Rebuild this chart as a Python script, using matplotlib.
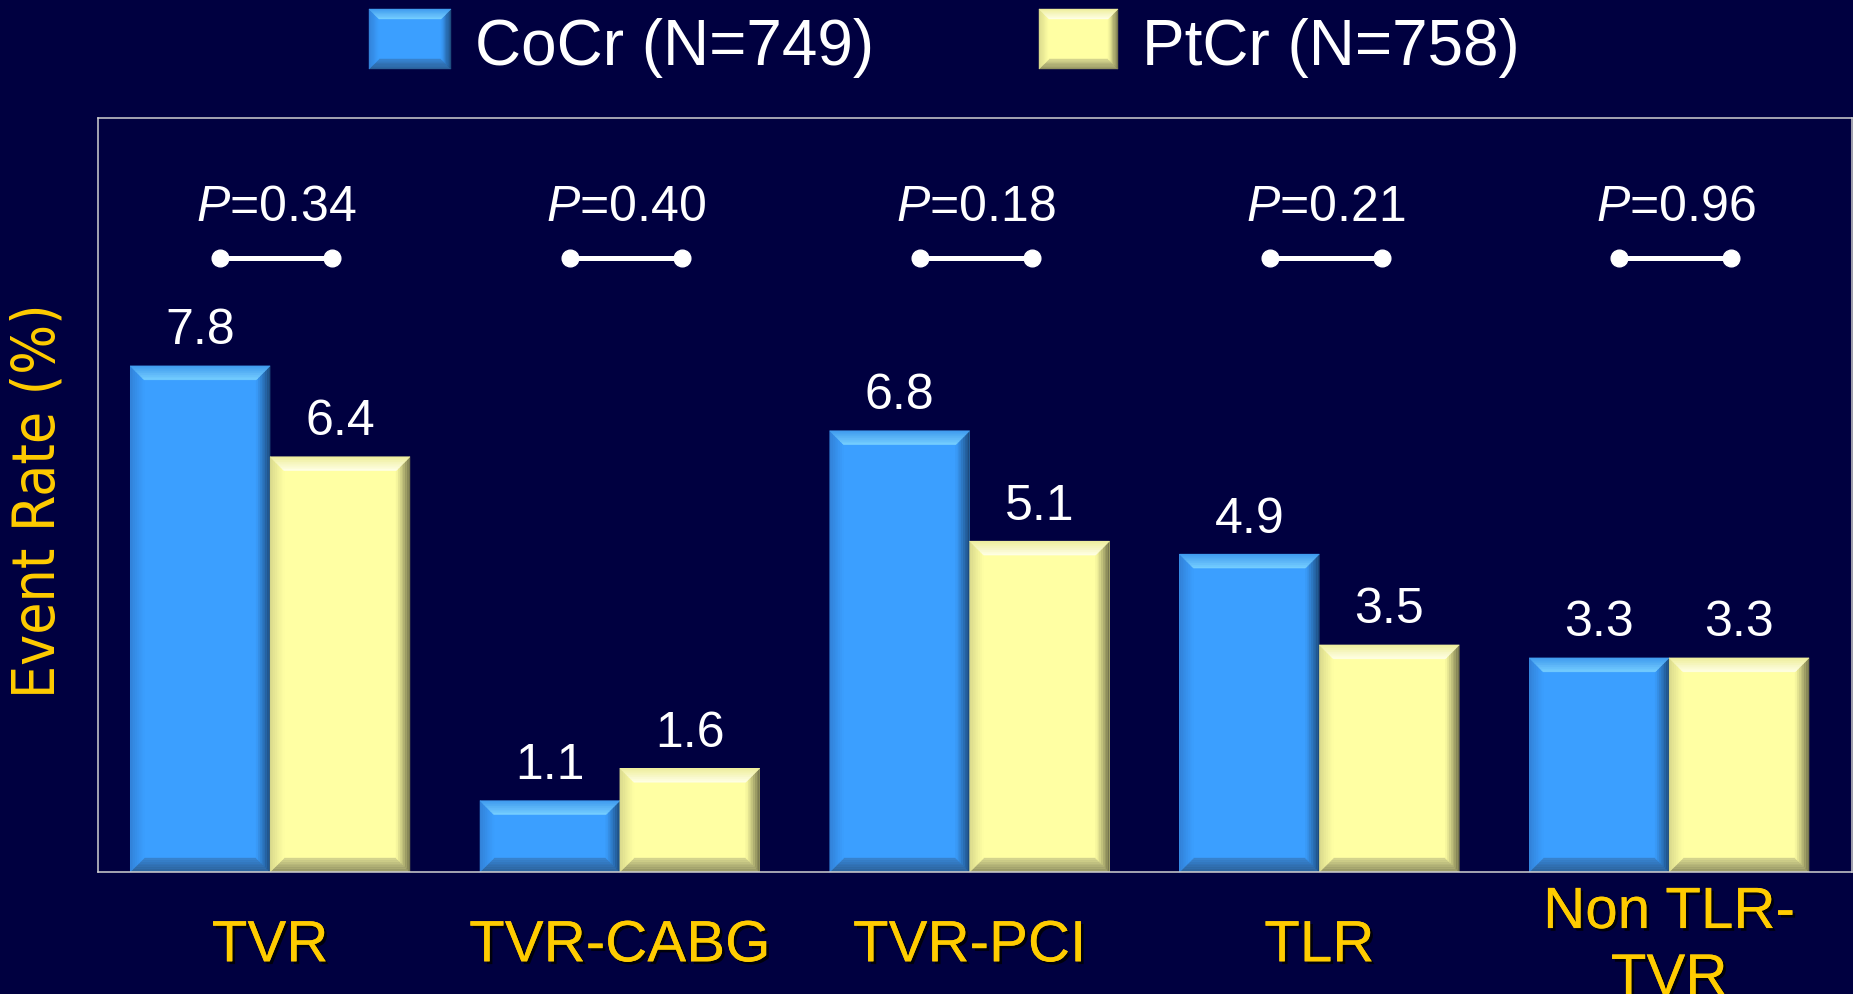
import matplotlib.pyplot as plt
import matplotlib.patheffects as pe
import matplotlib.transforms as mtransforms
from matplotlib.colors import to_rgb
from matplotlib.patches import Polygon, Rectangle
import numpy as np

# Event rates (%) per endpoint
categories = ['TVR', 'TVR-CABG', 'TVR-PCI', 'TLR', 'Non TLR-\nTVR']
cocr = [7.8, 1.1, 6.8, 4.9, 3.3]
ptcr = [6.4, 1.6, 5.1, 3.5, 3.3]
p_values = ['0.34', '0.40', '0.18', '0.21', '0.96']
series_names = ['CoCr (N=749)', 'PtCr (N=758)']

BG = '#000040'
GOLD = '#FFCC00'
# (outer, inner) colours of each bevel face
BLUE = dict(face='#3B9FFF',
            top=('#3E9AEE', '#78D0FF'), left=('#3180D6', '#3B9FFF'),
            right=('#1B4676', '#3B9FFF'), bottom=('#2A5E94', '#3784D2'))
YELLOW = dict(face='#FFFFA3',
              top=('#EDED9A', '#FFFFE8'), left=('#D8D88C', '#FFFFA3'),
              right=('#6E6E48', '#FFFFA3'), bottom=('#8C8C5E', '#D8D890'))

plt.rcParams['font.family'] = ['Liberation Sans', 'DejaVu Sans']
plt.rcParams['mathtext.fontset'] = 'custom'
plt.rcParams['mathtext.rm'] = 'Liberation Sans'
plt.rcParams['mathtext.it'] = 'Liberation Sans:italic'


def lerp(a, b, t):
    return tuple(np.asarray(a) + (np.asarray(b) - np.asarray(a)) * t)


def bevel(ax, left, right, bottom, top, bx, by, c, z=3, bands=8):
    # sloped faces around a bar, shaded outer -> inner; works for inverted y too
    sy = 1 if top > bottom else -1
    by = min(by, abs(top - bottom) / 2)
    bx = min(bx, (right - left) / 2)
    il, ir = left + bx, right - bx
    it, ib = top - sy * by, bottom + sy * by
    faces = [
        (((left, bottom), (right, bottom)), ((il, ib), (ir, ib)), c['bottom']),
        (((left, top), (left, bottom)), ((il, it), (il, ib)), c['left']),
        (((right, top), (right, bottom)), ((ir, it), (ir, ib)), c['right']),
        (((left, top), (right, top)), ((il, it), (ir, it)), c['top']),
    ]
    ts = np.linspace(0, 1, bands + 1)
    for (o1, o2), (i1, i2), (co, ci) in faces:
        co, ci = to_rgb(co), to_rgb(ci)
        for t0, t1 in zip(ts[:-1], ts[1:]):
            pts = [lerp(o1, i1, t0), lerp(o2, i2, t0), lerp(o2, i2, t1), lerp(o1, i1, t1)]
            col = lerp(co, ci, (t0 + t1) / 2)
            ax.add_patch(Polygon(pts, closed=True, facecolor=col, edgecolor=col,
                                 linewidth=0.3, zorder=z))


fig = plt.figure(figsize=(18.53, 9.94), dpi=100)
fig.patch.set_facecolor(BG)
ax = fig.add_axes([0.0529, 0.1227, 0.9466, 0.7586])
ax.set_facecolor(BG)

x = np.arange(len(categories))
w = 0.4
ax.set_xlim(-0.492, 4.523)
ax.set_ylim(0, 11.62)

# bevel size: 14 px converted to data units
inv = ax.transData.inverted()
(dx0, dy0), (dx1, dy1) = inv.transform([(0, 0), (14, 14)])
bev_x, bev_y = abs(dx1 - dx0), abs(dy1 - dy0)

for vals, offs, col in [(cocr, -w / 2, BLUE), (ptcr, w / 2, YELLOW)]:
    bars = ax.bar(x + offs, vals, w, color=col['face'], zorder=2)
    for b, v in zip(bars, vals):
        bevel(ax, b.get_x(), b.get_x() + b.get_width(), 0, v, bev_x, bev_y, col)
        ax.annotate(f'{v:.1f}', (b.get_x() + b.get_width() / 2, v), xytext=(0, 15.5),
                    textcoords='offset points', ha='center', va='baseline',
                    fontsize=36, color='white')

# P-values with connector
blend = mtransforms.blended_transform_factory(ax.transData, ax.transAxes)
for i, p in enumerate(p_values):
    cx = x[i] + 0.018
    ax.text(cx, 0.8636, '$P$=' + p, transform=blend, ha='center', va='baseline',
            fontsize=36, color='white')
    ax.plot([cx - 0.16, cx + 0.16], [0.8146, 0.8146], transform=blend, color='white',
            lw=3.6, marker='o', ms=12, solid_capstyle='butt', clip_on=False)

for s in ax.spines.values():
    s.set_color('#D0D0D0')
    s.set_linewidth(1.1)
    s.set_zorder(5)

ax.set_yticks([])
ax.set_xticks(x)
ax.set_xticklabels(categories, fontsize=42, color=GOLD, va='center', linespacing=1.3)
ax.tick_params(axis='x', length=0, pad=53.5)
for lab in ax.get_xticklabels():
    lab.set_path_effects([pe.withSimplePatchShadow(offset=(2, -2), shadow_rgbFace='black', alpha=0.8),
                          pe.Normal()])

fig.text(38 / 1853, 1 - 501 / 994, 'Event Rate (%)', rotation=90, ha='center', va='center',
         fontsize=42, color=GOLD, family='DejaVu Sans', fontstretch='condensed')

# legend drawn in pixel coordinates
lax = fig.add_axes([0, 0, 1, 1])
lax.set_xlim(0, 1853)
lax.set_ylim(994, 0)
lax.axis('off')
lax.patch.set_alpha(0)
for (x0, x1, tx), name, col in zip([(369, 451, 475), (1039, 1118, 1142)], series_names, [BLUE, YELLOW]):
    lax.add_patch(Rectangle((x0, 9), x1 - x0, 60, facecolor=col['face'], edgecolor='none', zorder=2))
    bevel(lax, x0, x1, 69, 9, 10, 10, col)
    lax.text(tx, 65, name, ha='left', va='baseline', fontsize=46, color='white')

plt.savefig('out.png', dpi=100, facecolor=BG)
